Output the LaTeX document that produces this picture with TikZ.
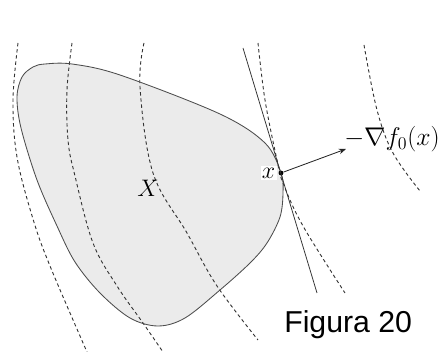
\documentclass[tikz,border=0pt]{standalone}
\usepackage{fix-cm}
\usepackage{fontspec}
\newfontfamily\arialf{Liberation Sans}
\usetikzlibrary{arrows.meta, positioning}
\tikzset{
  reg/.style = {draw=black!70, line width=0.6pt},
  niv/.style = {draw=black!80, line width=0.65pt, dash pattern=on 2.4pt off 2pt},
  tg/.style = {draw=black!80, line width=0.55pt},
  seta/.style = {-{Stealth[length=1.8mm, width=1.4mm]}, line width=0.6pt, draw=black!85},
  ponto/.style = {circle, fill=black, inner sep=0pt, minimum size=3.4pt},
  rot/.style = {font=\fontsize{17}{20}\selectfont, inner sep=1pt},
  rotg/.style = {font=\fontsize{18.2}{22}\selectfont, inner sep=0pt},
  leg/.style = {font=\arialf\fontsize{21.5}{24}\selectfont, inner sep=0pt}
}
\newcommand{\contorno}{(17,97) (22,77) (33,67) (45,64) (72,64) (120,75)
  (220,114) (265,143) (281,173) (283,193) (280,217) (267,243) (250,263)
  (220,290) (185,318) (158,326) (130,318) (100,293) (75,262) (57,226)
  (37,180) (21,128)}

\begin{document}
\begin{tikzpicture}[x=0.025cm, y=-0.025cm]
  \useasboundingbox (0,0) rectangle (441,352);
  % o conjunto X
  \fill [black!8] plot [smooth cycle, tension=0.55] coordinates {\contorno};
  % curvas de nivel
  \draw [niv] plot [smooth, tension=0.6] coordinates {(18,43) (13,100) (17,157) (33,219) (50,266) (87,352)};
  \draw [niv] plot [smooth, tension=0.6] coordinates {(72,43) (67,90) (68,140) (75,176) (93,243) (117,286) (143,323) (163,352)};
  \draw [niv] plot [smooth, tension=0.6] coordinates {(144,43) (140,87) (153,173) (187,233) (217,286) (258,340)};
  \draw [niv] plot [smooth, tension=0.6] coordinates {(258,43) (265,100) (277,160) (283,183) (303,226) (345,293)};
  \draw [niv] plot [smooth, tension=0.6] coordinates {(364,45) (377,110) (393,153) (420,191)};
  \draw [reg] plot [smooth cycle, tension=0.55] coordinates {\contorno};
  % reta tangente e gradiente
  \node [ponto] (x0) at (281,173) {};
  \coordinate (t1) at (243,48);
  \coordinate (t2) at (317,293);
  \draw [tg] (t1) -- (t2);
  \node [rotg, anchor=east] (grad) at (440,139) {$-\nabla f_0(x)$};
  \coordinate (ponta) at (346,149);
  \draw [seta] (x0) -- (ponta);
  \node [rot, fill=white, left=1pt of x0] (lx) {$x$};
  \node [rot] (lX) at (148,188) {$X$};
  \node [leg, anchor=base west] (fig) at (284,333) {Figura 20};
\end{tikzpicture}
\end{document}
